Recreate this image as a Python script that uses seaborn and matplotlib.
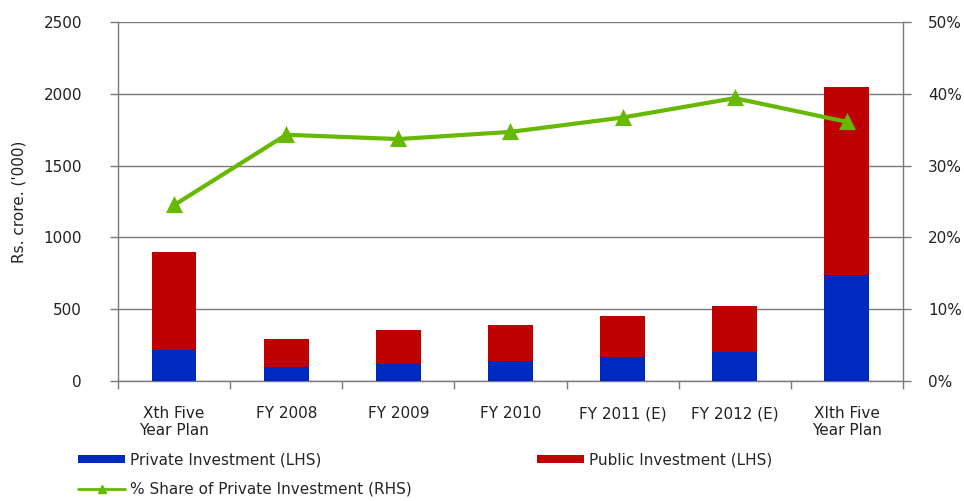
import numpy as np
import pandas as pd
import matplotlib
matplotlib.use("Agg")
import matplotlib.pyplot as plt
import seaborn as sns
from matplotlib.patches import Patch
from matplotlib.lines import Line2D
from matplotlib.ticker import FixedLocator, PercentFormatter

# data (Rs. crore '000)
categories = ["Xth Five\nYear Plan", "FY 2008", "FY 2009", "FY 2010",
              "FY 2011 (E)", "FY 2012 (E)", "XIth Five\nYear Plan"]
private_inv = [215, 100, 115, 140, 165, 205, 740]
total_inv = [900, 295, 355, 390, 455, 520, 2050]
share_private = [24.5, 34.3, 33.7, 34.7, 36.7, 39.4, 36.1]

blue = "#0029C0"
red = "#C00000"
green = "#66B800"
axis_grey = "#7a7a7a"

sns.set_theme(style="white")
plt.rcParams["font.family"] = ["DejaVu Sans"]

df = pd.DataFrame({"cat": categories, "private": private_inv,
                   "total": total_inv, "share": share_private})

fig = plt.figure(figsize=(9.64, 5.01), dpi=100)
ax = fig.add_axes([0.1224, 0.2395, 0.8143, 0.7165])

# stacked bars: total (public on top) then private underneath
sns.barplot(data=df, x="cat", y="total", order=categories, color=red,
            width=0.4, linewidth=0, saturation=1, ax=ax, zorder=2)
sns.barplot(data=df, x="cat", y="private", order=categories, color=blue,
            width=0.4, linewidth=0, saturation=1, ax=ax, zorder=3)

ax.set_ylim(0, 2500)
ax.set_yticks([0, 500, 1000, 1500, 2000, 2500])
ax.yaxis.grid(True, color=axis_grey, linewidth=1)
ax.set_axisbelow(True)
ax.set_ylabel("Rs. crore. ('000)", fontsize=11, color="#222222", labelpad=12)
ax.set_xlabel("")

# secondary axis with share line
ax2 = ax.twinx()
sns.pointplot(data=df, x="cat", y="share", order=categories, color=green,
              markers="^", linestyles="-", linewidth=3, markersize=9,
              errorbar=None, ax=ax2)
ax2.set_ylim(0, 50)
ax2.set_yticks([0, 10, 20, 30, 40, 50])
ax2.yaxis.set_major_formatter(PercentFormatter(decimals=0))
ax2.set_ylabel("")
ax2.grid(False)

ax.set_xlim(-0.5, len(categories) - 0.5)
ax.set_xticks(range(len(categories)))
ax.set_xticklabels(categories, fontsize=11, color="#222222")
ax.xaxis.set_minor_locator(FixedLocator(np.arange(-0.5, len(categories), 1.0)))
ax.tick_params(axis="x", which="major", length=0, pad=18)
ax.tick_params(axis="x", which="minor", length=6, width=1, color=axis_grey,
               direction="out", bottom=True)
ax.tick_params(axis="y", length=6, width=1, color=axis_grey, direction="out",
               labelsize=11, labelcolor="#222222", left=True, pad=20)
ax2.tick_params(axis="y", length=6, width=1, color=axis_grey, direction="out",
                labelsize=11, labelcolor="#222222", right=True, pad=12)

for a in (ax, ax2):
    a.spines["top"].set_visible(False)
    for s in ("left", "right", "bottom"):
        a.spines[s].set_color(axis_grey)
        a.spines[s].set_linewidth(1)
ax2.spines["left"].set_visible(False)
ax2.spines["bottom"].set_visible(False)
ax.spines["right"].set_visible(False)

# legend below the chart
h_priv = Patch(facecolor=blue, edgecolor="none")
h_pub = Patch(facecolor=red, edgecolor="none")
h_share = Line2D([], [], color=green, linewidth=2, marker="^", markersize=6)
fig.legend([h_priv, h_share],
           ["Private Investment (LHS)", "% Share of Private Investment (RHS)"],
           loc="upper left", bbox_to_anchor=(0.081, 0.097), frameon=False,
           fontsize=11, handlelength=3.1, handleheight=0.5,
           handletextpad=0.3, labelspacing=0.95, borderpad=0,
           borderaxespad=0)
fig.legend([h_pub], ["Public Investment (LHS)"],
           loc="upper left", bbox_to_anchor=(0.557, 0.097), frameon=False,
           fontsize=11, handlelength=3.1, handleheight=0.5,
           handletextpad=0.3, borderpad=0, borderaxespad=0)

fig.savefig("out.png", dpi=100)
